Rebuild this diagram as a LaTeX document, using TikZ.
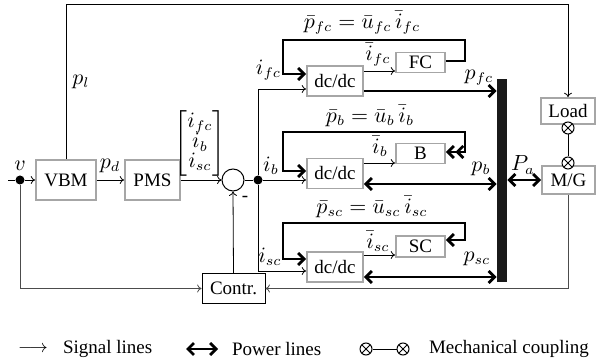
\documentclass[tikz,border=0pt]{standalone}
\usepackage{fontspec}
\setmainfont{Liberation Serif}
\usepackage{amsmath}
\usetikzlibrary{arrows.meta}
\begin{document}
\begin{tikzpicture}[x=0.5pt,y=-0.5pt, font=\fontsize{9.5}{11}\selectfont,
 blk/.style={draw=gray!70, line width=0.9pt, inner sep=0pt, fill=white},
 ml/.style={font=\fontsize{10.6}{12}\selectfont, inner sep=1pt},
 sig/.style={line width=0.4pt, -{To[length=2.2pt,width=4pt]}},
 sigline/.style={line width=0.4pt},
 pow/.style={line width=1.4pt, line join=miter, -{Straight Barb[length=3pt,width=6pt]}},
 pow2/.style={line width=1.4pt, line join=miter, {Straight Barb[length=3pt,width=6pt]}-{Straight Barb[length=3pt,width=6pt]}},
 powdd/.style={line width=1.4pt, line join=miter, {Straight Barb[length=3pt,width=6pt] Straight Barb[length=3pt,width=6pt]}-{Straight Barb[length=3pt,width=6pt]}},
 dot/.style={circle, fill, inner sep=0pt, minimum size=4.5pt},
 mech/.style={circle, draw, inner sep=0pt, minimum size=6pt, line width=0.5pt, fill=white,
   path picture={\draw[line width=0.5pt] (path picture bounding box.north west) -- (path picture bounding box.south east)
     (path picture bounding box.north east) -- (path picture bounding box.south west);}},
 grayline/.style={draw=gray!60!black},
]
\useasboundingbox (0,0) rectangle (597,362);
% blocks
\node[blk, minimum width=30pt, minimum height=20pt] (vbm) at (66,180) {VBM};
\node[blk, minimum width=27.5pt, minimum height=20pt] (pms) at (152.5,180) {PMS};
\node[circle, draw, line width=0.5pt, minimum size=11pt, inner sep=0pt] (sum) at (233,180) {};
\node[dot] (vdot) at (20,180) {};
\node[dot] (ibdot) at (258,180) {};
\coordinate (vin) at (8,180);
\node[draw, line width=0.5pt, minimum width=31.5pt, minimum height=14.5pt, inner sep=0pt, fill=white] (contr) at (233.5,288.5) {Contr.};
\node[blk, minimum width=28pt, minimum height=15pt] (dc1) at (335,81) {dc/dc};
\node[blk, minimum width=28pt, minimum height=15pt] (dc2) at (335,173.5) {dc/dc};
\node[blk, minimum width=28pt, minimum height=15pt] (dc3) at (335,267) {dc/dc};
\node[blk, minimum width=24.5pt, minimum height=10pt] (fc) at (420.5,62.5) {FC};
\node[blk, minimum width=24.5pt, minimum height=10pt] (bb) at (420.5,153.5) {B};
\node[blk, minimum width=24.5pt, minimum height=10.5pt] (sc) at (420.5,246.5) {SC};
\node[fill=black!90, inner sep=0pt, minimum width=5pt, minimum height=101.5pt] (bus) at (502,180.5) {};
\node[blk, minimum width=27pt, minimum height=13pt] (ld) at (568,111) {Load};
\node[blk, minimum width=26.5pt, minimum height=14pt] (mg) at (568.5,180) {M/G};
\node[mech] (m1) at (568,128) {};
\node[mech] (m2) at (568,163) {};
\draw[line width=0.5pt] (m1) -- (m2);

% signal lines
\draw[sigline] (vin) -- (vdot);
\draw[sig] (vdot) -- (vbm);
\draw[sig] (vbm) -- (pms);
\draw[sig] (pms) -- (sum);
\draw[sigline] (sum) -- (ibdot);
\draw[sig] (ibdot) -- (dc2.west |- ibdot);
\draw[sig] (ibdot) -- (258,89) -- (dc1.west |- 0,89);
\draw[sig] (ibdot) -- (258,271) -- (dc3.west |- 0,271);
\draw[sig] (vbm.north) -- (vbm.north |- 0,4) -- (ld.north |- 0,4) -- (ld.north);
\draw[sig, grayline] (vdot) -- (vdot |- contr.west) -- (contr.west);
\draw[sig, grayline] (mg.south) -- (mg.south |- contr.east) -- (contr.east);
\draw[sig] (contr.north) -- (sum.south);
\draw[sig] (dc1.east |- 0,71) -- (fc.west |- 0,71);
\draw[sig] (dc2.east |- 0,163) -- (bb.west |- 0,163);
\draw[sig] (dc3.east |- 0,255) -- (sc.west |- 0,255);

% power loops
\draw[pow] (fc.east |- 0,61) -- (465,61) -- (465,40) -- (283,40) -- (283,74) -- (dc1.west |- 0,74);
\draw[powdd] (bb.east |- 0,152) -- (465,152) -- (465,132) -- (283,132) -- (283,171) -- (dc2.west |- 0,171);
\draw[pow2] (sc.east |- 0,240) -- (465,240) -- (465,223) -- (283,223) -- (283,259) -- (dc3.west |- 0,259);

% power lines
\draw[pow] (dc1.east |- 0,91) -- (bus.west |- 0,91);
\draw[pow2] (dc2.east |- 0,184) -- (bus.west |- 0,184);
\draw[pow2] (dc3.east |- 0,277) -- (bus.west |- 0,277);
\draw[pow2] (bus.east |- mg.west) -- (mg.west);

% labels
\node[ml] at (362,23) {$\bar p_{fc} = \bar u_{fc}\,\bar i_{fc}$};
\node[ml] at (370,116) {$\bar p_b = \bar u_b\,\bar i_b$};
\node[ml] at (372,207) {$\bar p_{sc} = \bar u_{sc}\,\bar i_{sc}$};
\node[ml] at (378,55) {$\bar i_{fc}$};
\node[ml] at (380,146) {$\bar i_b$};
\node[ml] at (378,241) {$\bar i_{sc}$};
\node[ml] at (268.5,70) {$i_{fc}$};
\node[ml] at (271,166) {$i_b$};
\node[ml] at (270,257) {$i_{sc}$};
\node[ml] at (479,78) {$p_{fc}$};
\node[ml] at (481,169) {$p_b$};
\node[ml] at (477,259) {$p_{sc}$};
\node[ml] at (523,165) {$P_a$};
\node[ml] at (81,82) {$p_l$};
\node[ml] at (20,166) {$v$};
\node[ml] at (110,166) {$p_d$};
\node at (245,199) {-};
\node[ml] at (200,143) {$\renewcommand{\arraystretch}{0.75}\begin{bmatrix} i_{fc}\\ i_b\\ i_{sc}\end{bmatrix}$};

% legend
\node (lg1) at (33,349) {$\longrightarrow$};
\node[anchor=west] (lg1t) at (56,349) {Signal lines};
\coordinate (lp1) at (186,349);
\coordinate (lp2) at (218,349);
\draw[pow2] (lp1) -- (lp2);
\node[anchor=west] (lg2t) at (225,349) {Power lines};
\node[mech] (m3) at (366,349) {};
\node[mech] (m4) at (403,349) {};
\draw[line width=0.5pt] (m3) -- (m4);
\node[anchor=west] (lg3t) at (422,349) {Mechanical coupling};
\end{tikzpicture}
\end{document}
